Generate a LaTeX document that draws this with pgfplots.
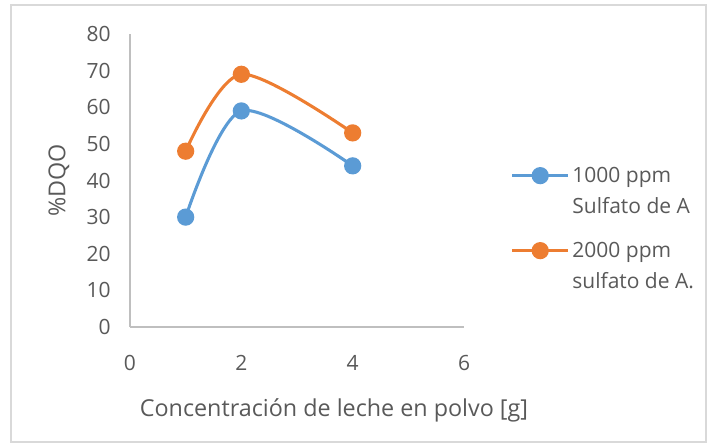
\documentclass[border=0pt]{standalone}
\usepackage{pgfplots}
\pgfplotsset{compat=1.18}
\usepackage{fontspec}
\setmainfont{Open Sans}
\definecolor{cblue}{HTML}{5B9BD5}
\definecolor{corange}{HTML}{ED7D31}
\definecolor{txt}{HTML}{595959}
\definecolor{axgray}{HTML}{BFBFBF}
\definecolor{brd}{HTML}{D9D9D9}
\pgfplotsset{
  common/.style={
    at={(97.5pt,88.5pt)}, anchor=origin,
    scale only axis, width=250.5pt, height=219.75pt,
    xmin=0, xmax=6, ymin=0, ymax=80,
    legend style={draw=none, fill=none, anchor=north west,
      font=\fontsize{15.75}{19}\selectfont, text=txt, row sep=6pt, inner sep=0pt},
    legend cell align=left,
    legend image code/.code={\draw[mark repeat=2,mark phase=2] plot coordinates {(0pt,0pt) (21pt,0pt) (42pt,0pt)};},
  }
}
\begin{document}
\begin{tikzpicture}[x=1pt,y=1pt]
\useasboundingbox (0,0) rectangle (531.75,333.75);
\draw[brd,line width=1.2pt] (8.25,2.25) rectangle (529.5,330);
\begin{axis}[
  common,
  xtick={0,2,4,6}, ytick={0,10,...,80},
  axis lines*=left,
  axis line style={axgray, line width=1pt, -},
  major tick length=0pt,
  tick label style={font=\fontsize{15.75}{19}\selectfont, text=txt},
  /pgf/number format/assume math mode=true,
  y tick label style={xshift=-11pt},
  x tick label style={yshift=-17.5pt},
  xlabel={Concentración de leche en polvo [g]},
  ylabel={\%DQO},
  label style={font=\fontsize{17.5}{21}\selectfont, text=txt},
  xlabel style={yshift=-14pt, xshift=27.75pt},
  ylabel style={yshift=6pt},
  legend style={at={(rel axis cs:1.139,0.556)}},
]
\addplot[cblue, line width=2.3pt, smooth, tension=0.5, mark=*, mark size=5.3pt, mark options={fill=cblue, draw=cblue}]
  coordinates {(1,30) (2,59) (4,44)};
\addlegendentry{1000 ppm}
\addlegendimage{empty legend}
\addlegendentry{Sulfato de A}
\end{axis}
\begin{axis}[
  common, hide axis,
  legend style={at={(rel axis cs:1.139,0.300)}},
]
\addplot[corange, line width=2.3pt, smooth, tension=0.5, mark=*, mark size=5.3pt, mark options={fill=corange, draw=corange}]
  coordinates {(1,48) (2,69) (4,53)};
\addlegendentry{2000 ppm}
\addlegendimage{empty legend}
\addlegendentry{sulfato de A.}
\end{axis}
\end{tikzpicture}
\end{document}
